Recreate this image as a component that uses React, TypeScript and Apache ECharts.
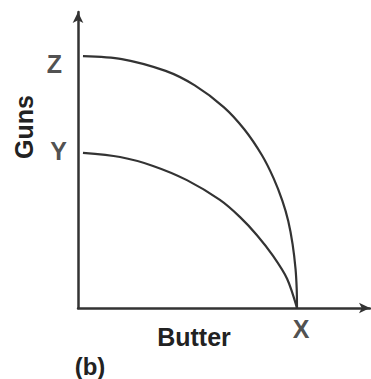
import React, { useEffect, useRef } from "react";
import * as echarts from "echarts";

// Production possibility frontiers (x = butter, y = guns), 0..100 scale
const outerCurve: [number, number][] = [
  [1.7, 85.1], [15, 84.1], [30, 80.1], [40, 75.2], [50, 67.8], [57, 60.3],
  [63, 51.6], [67, 43.8], [70, 36.2], [72, 29.4], [73.5, 21.5],
  [74.5, 13.2], [74.9, 6.4], [75.0, 0],
];
const innerCurve: [number, number][] = [
  [1.7, 52.4], [14.4, 51.0], [25.7, 48.0], [37.3, 43.2], [48.6, 36.5],
  [55.5, 30.7], [61.3, 24.6], [66.8, 17.6], [71.6, 9.9], [75.0, 0],
];
const pointLabels = ["Z", "Y", "X"];
const pointValues: [number, number][] = [[0, 85.1], [0, 52.4], [75, 0]];
const xTitle = "Butter";
const yTitle = "Guns";
const panelTag = "(b)";

const INK = "#333";
const FONT = "'Liberation Sans', Arial, Helvetica, sans-serif";

export default function App() {
  const ref = useRef<HTMLDivElement>(null);
  useEffect(() => {
    if (!ref.current) return;
    const chart = echarts.init(ref.current, undefined, { renderer: "svg" });
    const axisCommon = {
      type: "value" as const,
      min: 0,
      max: 100,
      axisLine: {
        show: true,
        symbol: ["none", "arrow"],
        symbolSize: [8, 11],
        lineStyle: { color: INK, width: 2.5 },
      },
      axisTick: { show: false },
      axisLabel: { show: false },
      splitLine: { show: false },
    };
    const labelCfg = [
      { position: "left", distance: 16, offset: [0, 8] },
      { position: "left", distance: 11, offset: [0, -2] },
      { position: "bottom", distance: 8, offset: [4, 0] },
    ];
    chart.setOption({
      animation: false,
      grid: { left: 78, top: 12, width: 292, height: 296 },
      xAxis: axisCommon,
      yAxis: axisCommon,
      series: [
        {
          type: "line",
          data: outerCurve,
          smooth: 0.3,
          showSymbol: false,
          lineStyle: { color: INK, width: 2.2 },
        },
        {
          type: "line",
          data: innerCurve,
          smooth: 0.3,
          showSymbol: false,
          lineStyle: { color: INK, width: 2.2 },
        },
        {
          type: "scatter",
          symbolSize: 0,
          data: pointValues.map((v, i) => ({
            value: v,
            label: {
              show: true,
              formatter: pointLabels[i],
              color: "#222",
              fontFamily: FONT,
              fontWeight: "bold",
              fontSize: 25,
              ...labelCfg[i],
            },
          })),
        },
      ],
      graphic: [
        {
          type: "text",
          x: 194,
          y: 337,
          style: {
            text: xTitle,
            fill: "#222",
            font: `bold 25px ${FONT}`,
            textAlign: "center",
            textVerticalAlign: "middle",
          },
        },
        {
          type: "text",
          x: 24,
          y: 127,
          rotation: Math.PI / 2,
          style: {
            text: yTitle,
            fill: "#222",
            font: `bold 25px ${FONT}`,
            textAlign: "center",
            textVerticalAlign: "middle",
          },
        },
        {
          type: "text",
          x: 90,
          y: 366,
          style: {
            text: panelTag,
            fill: "#222",
            font: `bold 24px ${FONT}`,
            textAlign: "center",
            textVerticalAlign: "middle",
          },
        },
      ],
    });
    return () => chart.dispose();
  }, []);
  return (
    <div
      ref={ref}
      style={{ position: "fixed", left: 0, top: 0, width: 371, height: 379, background: "#fff" }}
    />
  );
}
